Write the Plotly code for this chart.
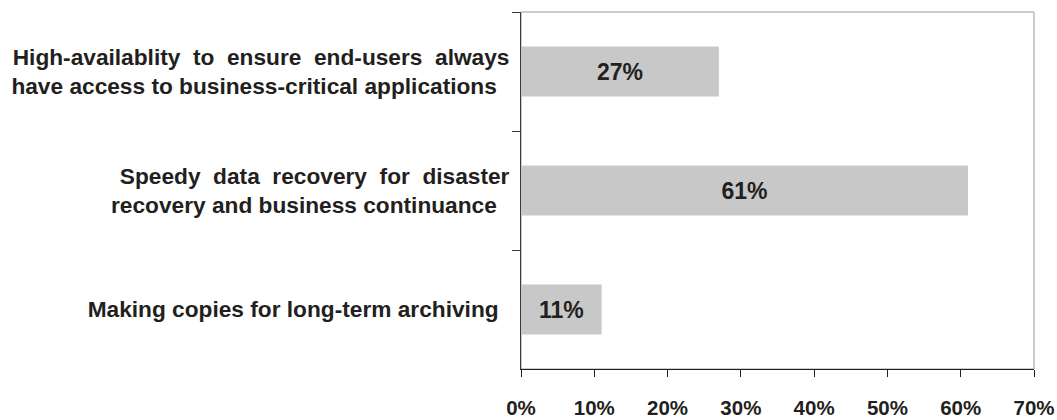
import plotly.graph_objects as go

NB = "\u00a0"
THIN = "\u2009"

categories = [
    "High-availablity to ensure end-users always",
    "have access to business-critical applications",
    "Speedy data recovery for disaster",
    "recovery and business continuance",
    "Making copies for long-term archiving",
]
values = [0.27, 0.61, 0.11]
tick_values = [0, 0.1, 0.2, 0.3, 0.4, 0.5, 0.6, 0.7]
tick_labels = ["0%", "10%", "20%", "30%", "40%", "50%", "60%", "70%"]


def justify(line, extra):
    return line.replace(" ", " " + NB * extra)


labels = [
    justify(categories[0], 1) + "<br>" + categories[1] + NB * 2,
    justify(categories[2], 1).replace("for" + NB, "for" + NB + NB) + "<br>" + categories[3] + NB * 2,
    categories[4] + NB + THIN,
]

FONT = "Liberation Sans, Arial, Helvetica, sans-serif"

fig = go.Figure(
    go.Bar(
        x=values,
        y=labels,
        orientation="h",
        marker=dict(color="#c8c8c8", line=dict(width=0)),
        texttemplate="%{x:.0%}",
        textposition="inside",
        insidetextanchor="middle",
        constraintext="none",
        textfont=dict(family=FONT, size=23, color="#231f20", weight="bold"),
        hoverinfo="skip",
    )
)

fig.update_layout(
    template="none",
    width=1057,
    height=420,
    margin=dict(l=521, r=23, t=12, b=51, autoexpand=False),
    paper_bgcolor="white",
    plot_bgcolor="white",
    bargap=0.58,
    showlegend=False,
    font=dict(family=FONT, color="#231f20"),
    shapes=[
        dict(
            type="rect", xref="paper", yref="paper", x0=0, x1=1, y0=0, y1=1,
            line=dict(color="#9a9a9a", width=1), layer="below",
        )
    ],
)

fig.update_xaxes(
    automargin=False,
    range=[0, 0.7],
    tickvals=tick_values,
    ticktext=tick_labels,
    showgrid=False,
    zeroline=False,
    showline=True,
    linecolor="#231f20",
    linewidth=1,
    ticks="outside",
    ticklen=7,
    tickcolor="#231f20",
    ticklabelstandoff=13,
    tickfont=dict(family=FONT, size=20.5, color="#231f20", weight="bold"),
)

fig.update_yaxes(
    automargin=False,
    autorange="reversed",
    showgrid=False,
    zeroline=False,
    showline=True,
    linecolor="#3a3a3a",
    linewidth=1,
    ticks="outside",
    tickson="boundaries",
    ticklen=8,
    tickcolor="#3a3a3a",
    ticklabelstandoff=6,
    tickfont=dict(family=FONT, size=22.7, color="#231f20", weight="bold"),
)

fig.write_html("out.html")
